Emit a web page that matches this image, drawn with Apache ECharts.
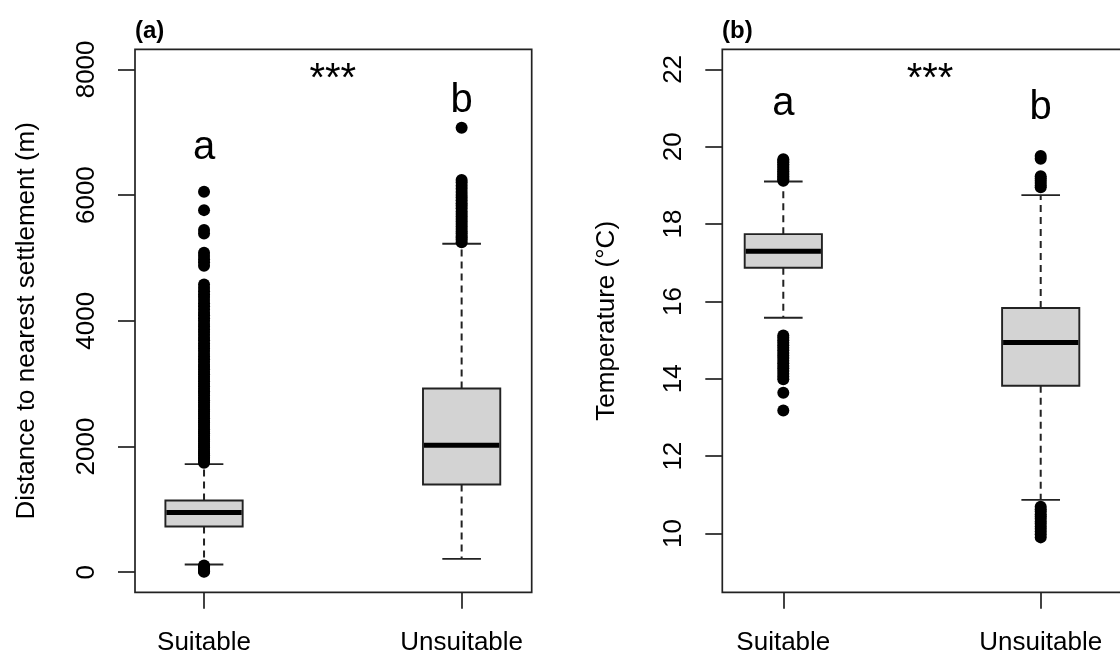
<!DOCTYPE html>
<html><head><meta charset="utf-8">
<script src="https://cdn.jsdelivr.net/npm/echarts@6/dist/echarts.min.js"></script>
<style>html,body{margin:0;padding:0;background:#fff}#c{width:1120px;height:653px}</style>
</head><body><div id="c"></div>
<script>
// ---------- data ----------
const categories = ['Suitable', 'Unsuitable'];

// Panel (a): distance to nearest settlement (m)
const distTicks = [0, 2000, 4000, 6000, 8000];
// [lower whisker, Q1, median, Q3, upper whisker]
const distSuitableBox = [122, 727, 950, 1141, 1719];
const distUnsuitableBox = [212, 1395, 2021, 2923, 5225];
const distSuitableOutliers = [5, 15, 28, 40, 55, 72, 90, 105,
  1740, 1770, 1800, 1825, 1860, 1890, 1915, 1950, 1985, 2010, 2045, 2080, 2110, 2140, 2175, 2210,
  2240, 2275, 2310, 2345, 2380, 2410, 2450, 2485, 2520, 2555, 2590, 2630, 2660, 2700, 2735, 2770,
  2810, 2850, 2880, 2920, 2960, 3000, 3040, 3075, 3110, 3150, 3190, 3230, 3270, 3300, 3350, 3390,
  3430, 3470, 3520, 3560, 3600, 3640, 3690, 3730, 3780, 3820, 3860, 3910, 3950, 4000, 4040, 4090,
  4130, 4180, 4230, 4280, 4330, 4380, 4420, 4470, 4520, 4578,
  4875, 4930, 4980, 5030, 5081, 5390, 5445, 5761, 6052];
const distUnsuitableOutliers = [5250, 5290, 5320, 5350, 5390, 5420, 5460, 5500, 5540, 5580, 5620,
  5660, 5700, 5740, 5790, 5830, 5870, 5920, 5960, 6000, 6050, 6100, 6150, 6200, 6240, 7070];
const distLetters = ['a', 'b'];
const distLetterY = [6750, 7500];
const distSig = ['***', 1.5, 7830];

// Panel (b): temperature (°C)
const tempTicks = [10, 12, 14, 16, 18, 20, 22];
const tempSuitableBox = [15.58, 16.87, 17.30, 17.74, 19.10];
const tempUnsuitableBox = [10.87, 13.82, 14.94, 15.83, 18.75];
const tempSuitableOutliers = [13.18, 13.64, 13.99, 14.06, 14.13, 14.20, 14.27, 14.33, 14.40, 14.47,
  14.54, 14.60, 14.67, 14.74, 14.80, 14.87, 14.93, 15.00, 15.06, 15.12,
  19.12, 19.16, 19.20, 19.24, 19.28, 19.32, 19.37, 19.41, 19.46, 19.50, 19.55, 19.60, 19.64, 19.68];
const tempUnsuitableOutliers = [9.90, 9.98, 10.05, 10.12, 10.18, 10.25, 10.31, 10.38, 10.44, 10.50,
  10.57, 10.63, 10.69, 18.95, 19.00, 19.06, 19.12, 19.18, 19.24, 19.69, 19.76];
const tempLetters = ['a', 'b'];
const tempLetterY = [21.10, 21.01];
const tempSig = ['***', 1.57, 21.72];

// ---------- chart ----------
const FONT = 'Liberation Sans, Arial, Helvetica, sans-serif';
const INK = '#222';
const BOX_WIDTH = 0.3;
const catPos = categories.map((c, i) => i + 1);

function boxRender(params, api) {
  const x = api.value(0);
  const p = i => api.coord([x, api.value(i)]);
  const lo = p(1), q1 = p(2), md = p(3), q3 = p(4), hi = p(5);
  const w = api.size([BOX_WIDTH, 0])[0];
  const cx = lo[0];
  const dash = { stroke: INK, lineWidth: 2, lineDash: [7, 5] };
  const solid = { stroke: INK, lineWidth: 1.9 };
  return { type: 'group', children: [
    { type: 'line', shape: { x1: cx, y1: q3[1], x2: cx, y2: hi[1] }, style: dash },
    { type: 'line', shape: { x1: cx, y1: q1[1], x2: cx, y2: lo[1] }, style: dash },
    { type: 'line', shape: { x1: cx - w / 4, y1: hi[1], x2: cx + w / 4, y2: hi[1] }, style: solid },
    { type: 'line', shape: { x1: cx - w / 4, y1: lo[1], x2: cx + w / 4, y2: lo[1] }, style: solid },
    { type: 'rect', shape: { x: cx - w / 2, y: q3[1], width: w, height: q1[1] - q3[1] },
      style: { fill: '#d3d3d3', stroke: INK, lineWidth: 1.9 } },
    { type: 'line', shape: { x1: cx - w / 2 + 1, y1: md[1], x2: cx + w / 2 - 1, y2: md[1] },
      style: { stroke: '#000', lineWidth: 5 } }
  ] };
}

function xAxisCfg(gi, min, max) {
  return {
    gridIndex: gi, type: 'value', min: min, max: max, position: 'bottom',
    axisLine: { show: false, onZero: false }, splitLine: { show: false },
    axisTick: { show: true, customValues: catPos, length: 16.5, lineStyle: { color: INK, width: 1.7 } },
    axisLabel: { show: true, customValues: catPos, formatter: v => categories[Math.round(v) - 1],
      fontSize: 26, color: '#000', fontFamily: FONT, margin: 38 }
  };
}
function yAxisCfg(gi, min, max, ticks, name, gap) {
  return {
    gridIndex: gi, type: 'value', min: min, max: max, position: 'left',
    axisLine: { show: false, onZero: false }, splitLine: { show: false },
    axisTick: { show: true, customValues: ticks, length: 17, lineStyle: { color: INK, width: 1.7 } },
    axisLabel: { show: true, customValues: ticks, formatter: v => String(v), rotate: 90, fontSize: 26,
      color: '#000', fontFamily: FONT, margin: 35 },
    name: name, nameLocation: 'middle', nameGap: gap,
    nameTextStyle: { fontSize: 26, color: '#000', fontFamily: FONT }
  };
}
function boxSeries(gi, boxes) {
  return { type: 'custom', xAxisIndex: gi, yAxisIndex: gi, renderItem: boxRender, silent: true,
    encode: { x: 0, y: [1, 2, 3, 4, 5] },
    data: boxes.map((b, i) => [catPos[i]].concat(b)) };
}
function outlierSeries(gi, lists) {
  const data = [];
  lists.forEach((l, i) => l.forEach(v => data.push([catPos[i], v])));
  return { type: 'scatter', xAxisIndex: gi, yAxisIndex: gi, symbol: 'circle', symbolSize: 12,
    itemStyle: { color: '#000', opacity: 1 }, silent: true, data: data, z: 3 };
}
function textSeries(gi, letters, ys, sig) {
  const data = letters.map((t, i) => [catPos[i], ys[i], t]);
  data.push([sig[1], sig[2], sig[0]]);
  return { type: 'scatter', xAxisIndex: gi, yAxisIndex: gi, symbolSize: 1, silent: true,
    itemStyle: { color: 'rgba(0,0,0,0)', opacity: 1 }, z: 4,
    label: { show: true, position: 'inside', formatter: p => p.value[2], fontSize: 40,
      color: '#000', opacity: 1, fontFamily: FONT },
    data: data };
}

const chart = echarts.init(document.getElementById('c'), null, { renderer: 'canvas' });
chart.setOption({
  animation: false,
  backgroundColor: '#fff',
  title: [
    { text: '(a)', left: 135, top: 19, padding: 0,
      textStyle: { fontSize: 24, fontWeight: 'bold', color: '#000', fontFamily: FONT } },
    { text: '(b)', left: 722, top: 19, padding: 0,
      textStyle: { fontSize: 24, fontWeight: 'bold', color: '#000', fontFamily: FONT } }
  ],
  grid: [
    { left: 135, top: 49.3, right: 588.3, bottom: 60.7, show: true, borderColor: INK, borderWidth: 1.7,
      backgroundColor: 'transparent', containLabel: false, outerBoundsMode: 'none' },
    { left: 722.3, top: 49.3, right: -18, bottom: 60.7, show: true, borderColor: INK, borderWidth: 1.7,
      backgroundColor: 'transparent', containLabel: false, outerBoundsMode: 'none' }
  ],
  xAxis: [xAxisCfg(0, 0.732, 2.272), xAxisCfg(1, 0.763, 2.378)],
  yAxis: [
    yAxisCfg(0, -320, 8320, distTicks, 'Distance to nearest settlement (m)', 95),
    yAxisCfg(1, 8.48, 22.52, tempTicks, 'Temperature (°C)', 102)
  ],
  series: [
    boxSeries(0, [distSuitableBox, distUnsuitableBox]),
    outlierSeries(0, [distSuitableOutliers, distUnsuitableOutliers]),
    textSeries(0, distLetters, distLetterY, distSig),
    boxSeries(1, [tempSuitableBox, tempUnsuitableBox]),
    outlierSeries(1, [tempSuitableOutliers, tempUnsuitableOutliers]),
    textSeries(1, tempLetters, tempLetterY, tempSig)
  ]
});
</script></body></html>
